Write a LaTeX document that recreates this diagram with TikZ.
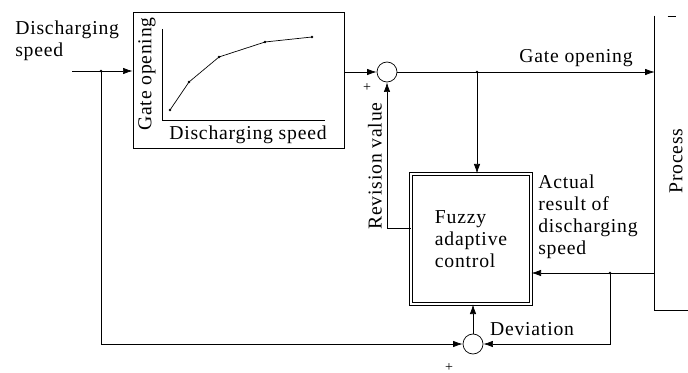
\documentclass[tikz,border=0pt]{standalone}
\usepackage{fontspec}
\setmainfont{Liberation Serif}[LetterSpace=4]
\usepackage{tikz}
\usetikzlibrary{arrows.meta,positioning,calc}

\begin{document}
\begin{tikzpicture}[
  x=0.025cm, y=-0.025cm,
  every node/.style={font=\fontsize{14}{15.6}\selectfont},
  block/.style={draw, line width=0.5pt, inner sep=0pt},
  fuzzybox/.style={draw, double, line width=0.6pt, double distance=1pt, align=left,
                   minimum width=3cm, minimum height=3.25cm},
  sumnode/.style={circle, draw, line width=0.5pt, minimum size=0.5cm, inner sep=0pt},
  txt/.style={inner sep=0pt},
  sign/.style={inner sep=0pt, font=\fontsize{10}{10}\selectfont},
  arrow/.style={-{Latex[length=2.4mm,width=1.6mm]}, line width=0.5pt},
  conn/.style={line width=0.5pt}
]
  \useasboundingbox (0,0) rectangle (688,373);

  \node[txt, anchor=north west, align=left] (inlbl) at (15,21) {Discharging\\speed};
  \node[block, minimum width=5.275cm, minimum height=3.4cm] (chart) at (238.5,80) {};
  \node[txt, rotate=90] (yaxislbl) at (147,74) {Gate opening};
  \node[txt] (xaxislbl) at (248,135) {Discharging speed};
  \draw[conn] (162,29) -- (162,120) -- (325,120);
  \draw[conn] plot coordinates {(170,110) (189,82) (219,57) (265,42) (312,37)};
  \foreach \p in {(170,110),(189,82),(219,57),(265,42),(312,37)}{\fill \p circle (0.9pt);}

  \node[sumnode] (sum1) at (387,72) {};
  \node[sumnode] (sum2) at (473,344) {};
  \node[fuzzybox] (fuzzy) at (471,239) {Fuzzy\\adaptive\\control};
  \node[minimum width=0.825cm, minimum height=7.35cm, inner sep=0pt] (proc) at (671.5,163) {};
  \draw[conn] (proc.north west) -- (proc.south west) -- (proc.south east);
  \draw[conn] ($(proc.north west)+(13,1)$) -- ++(8,0);
  \node[txt, rotate=90] (proclbl) at (676,161) {Process};

  \coordinate (in) at (72,71);
  \coordinate (ibranch) at (101,71);
  \coordinate (gbranch) at (477,72);
  \coordinate (rev) at (387,228);
  \coordinate (abranch) at (610,273);
  \foreach \c in {ibranch,gbranch,abranch}{\fill (\c) circle (1pt);}

  \draw[arrow] (in) -- (in -| chart.west);
  \draw[arrow] (chart.east |- sum1) -- (sum1.west);
  \draw[arrow] (sum1.east) -- (sum1 -| proc.west);
  \draw[arrow] (gbranch) -- (gbranch |- fuzzy.north);
  \draw[arrow] (rev -| fuzzy.west) -- (rev) -- (sum1.south);
  \draw[arrow] (proc.west |- abranch) -- (abranch -| fuzzy.east);
  \draw[arrow] (abranch) |- (sum2.east);
  \draw[arrow] (ibranch) |- (sum2.west);
  \draw[arrow] (sum2.north) -- (sum2.north |- fuzzy.south);

  \node[txt] (gatelbl) at (576,58) {Gate opening};
  \node[txt, rotate=90] (revlbl) at (375,166) {Revision value};
  \node[txt, anchor=north west, align=left] (actlbl) at (538,175) {Actual\\result of\\discharging\\speed};
  \node[txt] (devlbl) at (532,329) {Deviation};
  \node[sign] (plusa) at (367,88) {+};
  \node[sign] (plusb) at (449,368) {+};
\end{tikzpicture}
\end{document}
